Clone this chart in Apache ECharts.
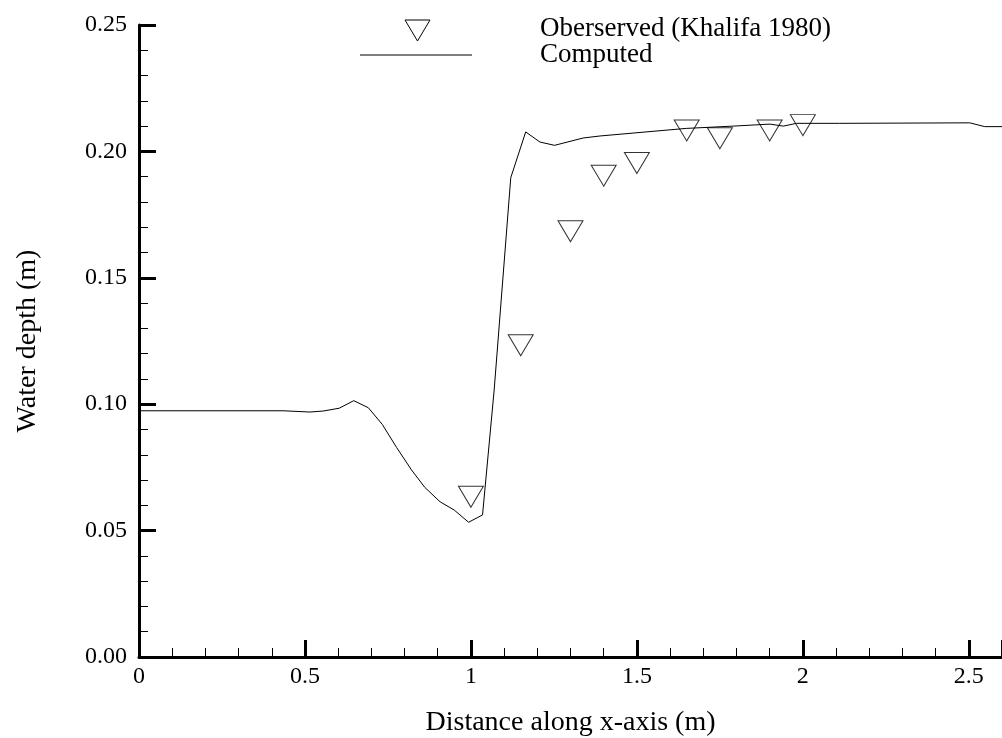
<!DOCTYPE html>
<html>
<head>
<meta charset="utf-8">
<script src="https://cdn.jsdelivr.net/npm/echarts@6/dist/echarts.min.js"></script>
<style>
html,body{margin:0;padding:0;background:#fff;}
#chart{width:1002px;height:738px;}
</style>
</head>
<body>
<div id="chart"></div>
<script>
// Computed water depth profile
const computedX = [0, 0.434, 0.515, 0.555, 0.603, 0.647, 0.691, 0.733, 0.776, 0.821, 0.861, 0.907, 0.950, 0.993, 1.035, 1.07, 1.12, 1.165, 1.208, 1.252, 1.338, 1.389, 1.649, 1.79, 1.901, 1.941, 1.981, 2.111, 2.503, 2.548, 2.6];
const computedY = [0.0974, 0.0974, 0.0969, 0.0973, 0.0984, 0.1014, 0.0986, 0.0920, 0.0829, 0.0740, 0.0671, 0.0614, 0.0581, 0.0533, 0.0562, 0.1056, 0.1896, 0.2077, 0.2037, 0.2024, 0.2053, 0.2061, 0.2091, 0.2100, 0.2108, 0.2100, 0.2111, 0.2111, 0.2113, 0.2098, 0.2098];
// Observed (Khalifa 1980)
const observedX = [1.0, 1.15, 1.3, 1.4, 1.5, 1.65, 1.75, 1.9, 2.0];
const observedY = [0.0634, 0.1233, 0.1684, 0.1904, 0.1954, 0.2083, 0.2052, 0.2083, 0.2104];

const FONT = 'Liberation Serif';
const chart = echarts.init(document.getElementById('chart'), null, {renderer: 'canvas'});

const computedData = computedX.map((x, i) => [x, computedY[i]]);
const observedData = observedX.map((x, i) => [x, observedY[i]]);

chart.setOption({
  backgroundColor: '#fff',
  animation: false,
  grid: {left: 139, right: 0, top: 25, bottom: 81, containLabel: false, outerBoundsMode: 'none'},
  xAxis: {
    type: 'value', min: 0, max: 2.6, interval: 0.5,
    name: 'Distance along x-axis (m)', nameLocation: 'middle', nameGap: 52,
    nameTextStyle: {fontFamily: FONT, fontSize: 28, color: '#000'},
    axisLine: {show: true, onZero: false, lineStyle: {color: '#000', width: 3}},
    axisTick: {show: true, inside: true, length: 17, lineStyle: {color: '#000', width: 3}},
    minorTick: {show: true, splitNumber: 5, length: 9, lineStyle: {color: '#000', width: 1}},
    axisLabel: {fontFamily: FONT, fontSize: 24, color: '#000', margin: 8, showMaxLabel: false,
      formatter: v => String(v)},
    splitLine: {show: false}
  },
  yAxis: {
    type: 'value', min: 0, max: 0.25, interval: 0.05,
    name: 'Water depth (m)', nameLocation: 'middle', nameGap: 97,
    nameTextStyle: {fontFamily: FONT, fontSize: 28, color: '#000'},
    axisLine: {show: true, onZero: false, lineStyle: {color: '#000', width: 3}},
    axisTick: {show: true, inside: true, length: 17, lineStyle: {color: '#000', width: 3}},
    minorTick: {show: true, splitNumber: 5, length: 9, lineStyle: {color: '#000', width: 1}},
    axisLabel: {fontFamily: FONT, fontSize: 24, color: '#000', margin: 12,
      formatter: v => v.toFixed(2)},
    splitLine: {show: false}
  },
  series: [
    {
      name: 'Computed', type: 'line', data: computedData,
      showSymbol: false, symbol: 'none',
      lineStyle: {color: '#000', width: 1}, z: 2
    },
    {
      name: 'Oberserved (Khalifa 1980)', type: 'scatter', data: observedData,
      symbol: 'triangle', symbolRotate: 180, symbolSize: [25, 21],
      itemStyle: {color: 'rgba(0,0,0,0)', borderColor: '#000', borderWidth: 1}, z: 3
    }
  ],
  graphic: [
    {type: 'polygon', shape: {points: [[405, 20], [430, 20], [417.5, 41]]},
     style: {fill: 'none', stroke: '#000', lineWidth: 1}},
    {type: 'line', shape: {x1: 360, y1: 55, x2: 472, y2: 55},
     style: {stroke: '#000', lineWidth: 1}},
    {type: 'text', left: 540, top: 15,
     style: {text: 'Oberserved (Khalifa 1980)', font: '27px "Liberation Serif"', fill: '#000'}},
    {type: 'text', left: 540, top: 41,
     style: {text: 'Computed', font: '27px "Liberation Serif"', fill: '#000'}}
  ]
});
</script>
</body>
</html>
